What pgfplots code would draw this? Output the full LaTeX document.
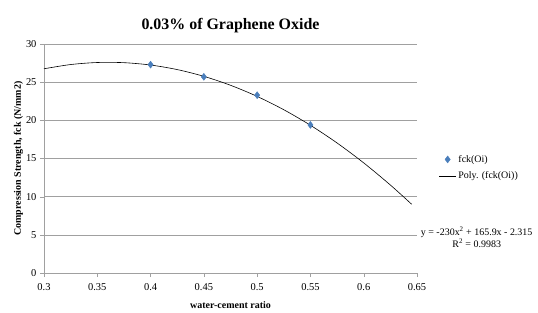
\documentclass[border=0pt]{standalone}
\usepackage{pgfplots}
\pgfplotsset{compat=1.18}
\usepackage{fontspec}
\setmainfont{Liberation Serif}
\definecolor{excelblue}{RGB}{74,126,187}
\definecolor{gridgray}{RGB}{160,160,160}
\begin{document}
\begin{tikzpicture}[x=1bp,y=1bp]
\useasboundingbox (-44bp,-40bp) rectangle (494bp,273bp);
\begin{axis}[
  at={(0,0)}, anchor=south west,
  scale only axis,
  width=373bp, height=229bp,
  xmin=0.3, xmax=0.65, ymin=0, ymax=30,
  xtick={0.3,0.35,0.4,0.45,0.5,0.55,0.6,0.65},
  xticklabels={0.3,0.35,0.4,0.45,0.5,0.55,0.6,0.65},
  ytick={0,5,10,15,20,25,30},
  axis x line*=bottom, axis y line*=left,
  axis line style={gridgray, -},
  ymajorgrids, major grid style={gridgray, line width=0.6pt},
  tick align=outside, tick style={gridgray}, major tick length=4bp,
  ticklabel style={font=\rmfamily\fontsize{10.5}{11}\selectfont},
  xticklabel style={yshift=-3bp},
  /pgf/number format/assume math mode=true,
  xlabel={\bfseries water-cement ratio},
  ylabel={\bfseries Compression Strength, fck (N/mm2)},
  xlabel style={font=\rmfamily\fontsize{10}{11}\selectfont, yshift=-4bp},
  ylabel style={font=\rmfamily\fontsize{10}{11}\selectfont, yshift=-4bp},
  title={\bfseries 0.03\% of Graphene Oxide},
  title style={font=\rmfamily\fontsize{16}{18}\selectfont, yshift=2bp},
  legend style={draw=none, fill=none, at={(1.05,0.46)}, anchor=west,
    font=\rmfamily\fontsize{10}{11}\selectfont, row sep=4bp},
  legend cell align=left,
  clip=false,
]
\addplot[only marks, mark=diamond*, mark size=3.5bp, color=excelblue] coordinates {
 (0.40,27.3) (0.45,25.7) (0.50,23.3) (0.55,19.4)
};
\addlegendentry{fck(Oi)}
\addplot[black, line width=0.6pt, smooth] coordinates {
 (0.300,26.755) (0.325,27.309) (0.350,27.575) (0.375,27.554) (0.400,27.245)
 (0.425,26.649) (0.450,25.765) (0.475,24.594) (0.500,23.135) (0.525,21.389)
 (0.550,19.355) (0.575,17.034) (0.600,14.425) (0.625,11.529) (0.645,9.005)
};
\addlegendentry{Poly. (fck(Oi))}
\node[font=\rmfamily\fontsize{10}{12}\selectfont, align=center, anchor=north] at (rel axis cs:1.16,0.215)
  {y = -230x\textsuperscript{2} + 165.9x - 2.315\\R\textsuperscript{2} = 0.9983};
\end{axis}
\end{tikzpicture}
\end{document}
